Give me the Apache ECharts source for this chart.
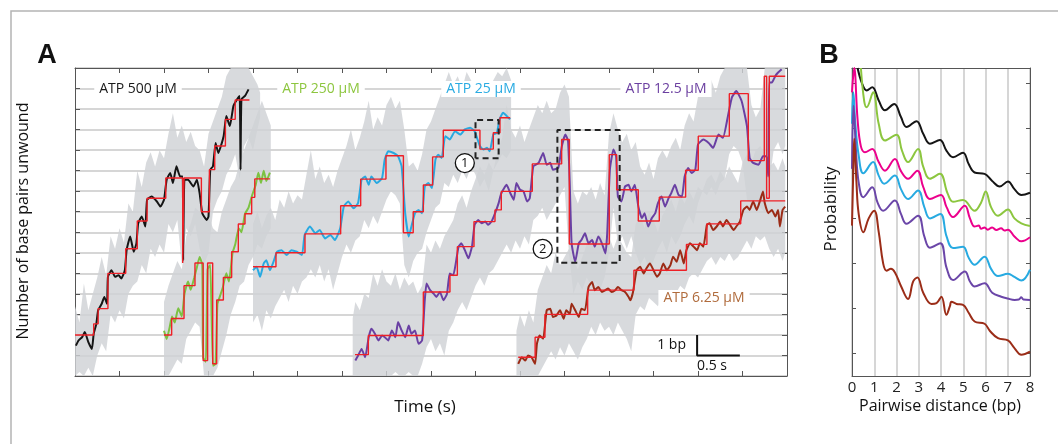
<!DOCTYPE html>
<html>
<head>
<meta charset="utf-8">
<title>Unwinding traces</title>
<script src="https://cdn.jsdelivr.net/npm/echarts@6/dist/echarts.min.js"></script>
<style>
  html, body { margin: 0; padding: 0; background: #fff; }
  #main { width: 1058px; height: 444px; }
</style>
</head>
<body>
<div id="main"></div>
<script>
// ---- panel A : smoothed traces (time s, base pairs) ----
var traceBlack = [[0.01,1.48],[0.04,1.73],[0.08,1.89],[0.11,2.14],[0.15,1.65],[0.19,1.32],[0.21,2.06],[0.24,2.54],[0.26,3.2],[0.3,3.52],[0.33,3.85],[0.36,3.52],[0.37,4.83],[0.41,5.15],[0.45,4.83],[0.49,4.91],[0.52,4.75],[0.56,5.15],[0.58,6.13],[0.62,6.79],[0.66,6.05],[0.69,6.46],[0.71,7.44],[0.75,7.77],[0.79,7.28],[0.81,8.58],[0.86,8.74],[0.92,8.5],[0.96,8.25],[1.0,8.58],[1.03,9.56],[1.07,9.89],[1.1,9.4],[1.14,10.21],[1.18,9.72],[1.21,9.72],[1.215,5.64],[1.23,9.56],[1.27,9.56],[1.33,9.23],[1.37,9.56],[1.4,8.91],[1.43,7.93],[1.48,7.6],[1.5,7.77],[1.52,10.05],[1.55,10.21],[1.58,11.35],[1.61,10.86],[1.67,11.68],[1.7,12.66],[1.74,12.17],[1.78,13.15],[1.82,13.47],[1.85,13.64],[1.86,10.05],[1.87,13.47],[1.91,13.64],[1.95,13.96]];
var traceGreen = [[1.0,2.2],[1.03,1.8],[1.06,2.3],[1.09,2.9],[1.12,2.6],[1.16,3.3],[1.2,2.9],[1.23,4.0],[1.27,4.6],[1.3,4.2],[1.34,4.8],[1.37,5.3],[1.4,5.8],[1.43,5.4],[1.44,0.9],[1.47,0.7],[1.49,5.2],[1.52,5.4],[1.55,0.5],[1.58,0.6],[1.6,3.5],[1.63,3.9],[1.66,4.3],[1.7,5.0],[1.73,4.6],[1.77,6.0],[1.8,6.4],[1.84,7.2],[1.87,7.0],[1.91,7.9],[1.95,8.2],[1.99,8.8],[2.03,9.3],[2.06,9.9],[2.09,9.4],[2.12,10.0],[2.15,9.5],[2.19,9.9]];
var traceBlue = [[2.0,5.15],[2.04,5.32],[2.08,4.83],[2.12,5.48],[2.15,5.64],[2.19,5.15],[2.23,5.56],[2.27,6.05],[2.32,6.13],[2.38,5.89],[2.43,6.13],[2.49,6.05],[2.55,5.89],[2.58,6.87],[2.64,7.28],[2.7,6.95],[2.75,7.11],[2.81,6.7],[2.87,6.87],[2.92,6.62],[2.98,7.19],[3.02,8.25],[3.07,8.5],[3.13,8.17],[3.18,8.42],[3.22,9.56],[3.26,9.72],[3.3,9.31],[3.33,9.72],[3.39,9.4],[3.45,9.64],[3.48,10.54],[3.52,10.95],[3.58,10.86],[3.63,10.7],[3.67,10.21],[3.71,7.93],[3.75,6.79],[3.78,7.28],[3.82,7.93],[3.86,8.09],[3.9,7.93],[3.93,9.23],[3.97,9.4],[4.01,9.15],[4.05,10.54],[4.08,10.78],[4.12,10.62],[4.16,11.68],[4.21,11.52],[4.27,11.92],[4.33,11.76],[4.38,12.01],[4.44,12.09],[4.49,11.92],[4.55,11.19],[4.59,11.03],[4.63,11.11],[4.66,10.95],[4.7,11.76],[4.74,11.84],[4.77,12.5],[4.81,12.82],[4.87,12.58],[4.89,12.5]];
var tracePurple = [[3.15,0.75],[3.18,0.99],[3.22,1.32],[3.26,0.91],[3.3,1.89],[3.33,2.3],[3.37,2.06],[3.41,1.73],[3.45,1.97],[3.48,1.89],[3.52,1.73],[3.56,2.22],[3.6,1.89],[3.63,2.63],[3.67,2.22],[3.71,1.89],[3.75,2.46],[3.78,2.06],[3.82,2.22],[3.86,1.57],[3.9,1.73],[3.93,3.69],[3.95,4.5],[3.99,4.18],[4.03,4.01],[4.06,3.85],[4.1,4.09],[4.14,3.69],[4.18,4.01],[4.21,4.99],[4.25,4.91],[4.29,5.81],[4.31,6.3],[4.34,6.46],[4.38,6.13],[4.42,5.73],[4.46,6.3],[4.49,7.36],[4.53,7.6],[4.57,7.44],[4.61,7.52],[4.64,7.36],[4.68,7.52],[4.72,7.93],[4.76,8.42],[4.79,8.9],[4.85,9.31],[4.89,8.91],[4.93,8.58],[4.96,9.4],[5.0,9.07],[5.04,8.99],[5.08,8.5],[5.11,8.66],[5.15,10.21],[5.21,10.38],[5.26,10.86],[5.3,10.29],[5.34,10.38],[5.37,10.05],[5.43,10.13],[5.47,11.19],[5.51,11.76],[5.54,11.44],[5.56,9.23],[5.58,6.46],[5.62,5.56],[5.66,6.46],[5.69,6.62],[5.73,6.95],[5.77,6.46],[5.81,6.62],[5.84,6.3],[5.88,6.79],[5.92,6.46],[5.96,5.97],[5.98,6.95],[6.01,10.05],[6.05,11.03],[6.08,10.7],[6.1,8.74],[6.14,8.5],[6.18,9.23],[6.22,9.31],[6.25,8.99],[6.29,9.31],[6.33,8.25],[6.37,7.68],[6.4,7.93],[6.44,7.28],[6.48,7.68],[6.52,7.93],[6.55,8.42],[6.59,8.74],[6.63,8.25],[6.67,8.66],[6.7,8.91],[6.74,9.31],[6.78,8.83],[6.82,8.74],[6.85,9.72],[6.89,10.13],[6.93,9.89],[6.97,10.05],[7.0,11.27],[7.06,11.52],[7.12,11.35],[7.17,11.11],[7.23,11.76],[7.28,11.6],[7.34,12.74],[7.38,13.56],[7.43,13.88],[7.49,13.39],[7.55,12.17],[7.58,10.62],[7.62,10.38],[7.68,10.29],[7.73,10.7],[7.77,10.7],[7.79,9.72],[7.8,14.29],[7.83,14.29],[7.87,14.62],[7.9,14.78],[7.94,14.94]];
var traceBrown = [[4.98,0.59],[5.02,0.91],[5.06,0.75],[5.09,1.0],[5.13,0.91],[5.17,0.59],[5.19,1.57],[5.22,1.97],[5.26,1.81],[5.3,3.2],[5.34,3.28],[5.37,2.87],[5.41,2.95],[5.45,3.2],[5.49,2.79],[5.52,3.2],[5.56,3.03],[5.58,3.52],[5.62,3.2],[5.66,2.87],[5.69,3.28],[5.73,3.2],[5.77,4.34],[5.81,4.58],[5.84,4.18],[5.88,4.34],[5.92,4.09],[5.96,4.18],[5.99,4.26],[6.03,4.09],[6.07,4.18],[6.1,4.34],[6.14,4.18],[6.18,4.09],[6.22,3.85],[6.24,3.69],[6.27,4.09],[6.31,5.15],[6.35,5.32],[6.39,4.99],[6.42,5.24],[6.46,5.48],[6.5,5.15],[6.54,4.83],[6.57,4.99],[6.61,5.48],[6.65,5.15],[6.69,5.4],[6.72,5.81],[6.76,5.56],[6.8,6.13],[6.84,5.48],[6.87,6.13],[6.91,6.46],[6.95,6.3],[6.99,6.13],[7.02,6.46],[7.06,6.3],[7.1,7.36],[7.13,7.44],[7.17,7.11],[7.21,7.28],[7.25,7.52],[7.28,7.28],[7.32,7.6],[7.36,7.36],[7.4,7.11],[7.43,7.28],[7.47,7.52],[7.51,8.09],[7.55,8.25],[7.58,8.09],[7.62,8.5],[7.66,8.09],[7.7,8.58],[7.73,8.99],[7.75,8.42],[7.79,7.93],[7.83,8.09],[7.87,7.77],[7.9,8.09],[7.92,7.28],[7.95,8.09],[7.98,8.25]];

// ---- panel A : step fits (start time, level) ----
var fitBlack = [[0,2.0],[0.21,2.54],[0.26,3.28],[0.37,5.0],[0.57,6.2],[0.70,7.55],[0.81,8.66],[1.02,9.64],[1.21,5.5],[1.225,9.64],[1.42,8.0],[1.51,10.05],[1.57,11.2],[1.69,12.5],[1.80,13.44],[1.96,13.44]];
var fitGreen = [[1.0,2.0],[1.086,2.8],[1.225,4.4],[1.348,5.5],[1.44,0.75],[1.49,5.5],[1.547,0.6],[1.592,3.7],[1.667,4.8],[1.76,6.05],[1.835,7.4],[1.91,7.9],[1.985,8.7],[2.02,9.6],[2.19,9.6]];
var fitBlue = [[2.0,5.32],[2.258,6.0],[2.584,6.92],[2.985,8.29],[3.21,9.59],[3.494,10.73],[3.69,6.98],[3.80,8.0],[3.914,9.3],[4.018,10.67],[4.138,11.97],[4.55,11.05],[4.70,11.85],[4.775,12.58],[4.89,12.58]];
var fitPurple = [[3.146,1.04],[3.296,1.97],[3.914,4.09],[4.213,4.91],[4.296,6.3],[4.483,7.52],[4.719,8.09],[4.79,8.99],[5.138,10.33],[5.468,11.52],[5.554,6.43],[6.003,10.78],[6.086,9.07],[6.329,7.55],[6.565,8.71],[6.861,10.02],[7.003,11.68],[7.352,13.75],[7.565,10.49],[7.745,14.6],[7.771,8.66],[7.801,14.6],[7.98,14.6]];
var fitBrown = [[4.98,0.91],[5.17,1.89],[5.28,3.0],[5.76,4.18],[6.28,5.15],[6.87,6.41],[7.10,7.41],[7.48,8.53],[7.98,8.53]];

// ---- panel A : raw-data spread (time, low, high) ----
var rawBlack = [[0.00,0.0,3.4],[0.05,0.2,2.6],[0.10,0.0,4.5],[0.15,0.4,3.2],[0.20,0.0,4.0],[0.25,1.0,4.8],[0.30,1.6,5.8],[0.35,1.2,4.9],[0.40,3.0,6.8],[0.45,2.6,6.2],[0.50,3.2,7.2],[0.55,2.8,6.5],[0.60,4.0,8.4],[0.65,4.4,8.0],[0.70,4.6,10.0],[0.75,5.4,9.2],[0.80,5.0,10.4],[0.85,6.2,10.9],[0.90,5.8,10.2],[0.95,6.4,11.0],[1.00,6.0,10.6],[1.05,7.4,11.8],[1.10,7.0,12.8],[1.15,7.6,11.6],[1.20,5.4,12.2],[1.25,7.2,11.4],[1.30,6.8,11.9],[1.35,7.4,11.2],[1.40,6.2,11.0],[1.45,5.4,10.2],[1.50,6.0,11.8],[1.55,8.0,12.4],[1.60,8.6,13.0],[1.65,9.0,13.6],[1.70,9.8,14.6],[1.75,10.2,15.0],[1.80,10.8,15.0],[1.85,9.6,15.0],[1.90,11.2,15.0],[1.95,11.6,15.0],[2.00,11.0,14.6],[2.05,12.0,14.2],[2.08,12.6,13.8]];
var rawGreen = [[1.00,0.0,3.6],[1.05,0.0,4.4],[1.10,0.4,5.0],[1.15,0.8,5.6],[1.20,0.6,5.2],[1.25,1.8,6.8],[1.30,2.2,7.4],[1.35,2.6,8.2],[1.40,2.4,8.0],[1.45,0.0,7.6],[1.50,0.0,7.8],[1.55,0.0,7.2],[1.60,0.4,7.0],[1.65,1.2,8.0],[1.70,2.0,8.6],[1.75,3.0,9.2],[1.80,3.6,9.6],[1.85,4.4,10.4],[1.90,4.6,11.0],[1.95,5.4,11.6],[2.00,5.8,12.2],[2.05,6.4,12.8],[2.10,6.2,13.4],[2.15,6.8,12.8],[2.20,7.2,12.2]];
var rawBlue = [[2.00,2.6,7.4],[2.05,3.0,8.0],[2.10,2.2,7.2],[2.15,3.2,7.8],[2.20,2.8,8.2],[2.25,3.4,7.6],[2.30,3.8,8.6],[2.35,4.2,8.2],[2.40,3.6,9.0],[2.45,4.4,8.4],[2.50,4.0,8.8],[2.55,4.6,8.6],[2.60,4.8,9.8],[2.65,5.2,11.0],[2.70,4.8,9.6],[2.75,5.4,10.2],[2.80,4.6,9.4],[2.85,5.2,9.8],[2.90,4.2,9.2],[2.95,5.0,10.0],[3.00,5.8,10.6],[3.05,6.4,11.2],[3.10,6.0,12.0],[3.15,6.6,11.0],[3.20,6.8,11.6],[3.25,7.6,12.4],[3.30,7.2,13.4],[3.35,7.8,12.0],[3.40,7.4,12.6],[3.45,8.0,12.2],[3.50,8.6,13.2],[3.55,9.0,13.6],[3.60,8.8,13.0],[3.65,8.4,13.4],[3.70,5.4,12.0],[3.75,4.8,10.2],[3.80,5.6,10.4],[3.85,6.0,10.0],[3.90,6.2,10.8],[3.95,7.0,12.0],[4.00,7.6,12.4],[4.05,8.2,13.0],[4.10,8.4,13.6],[4.15,9.4,14.2],[4.20,9.2,14.8],[4.25,9.8,14.2],[4.30,9.4,14.6],[4.35,10.0,14.0],[4.40,9.6,14.8],[4.45,10.2,14.4],[4.50,9.8,13.8],[4.55,9.2,13.6],[4.60,9.6,14.2],[4.65,9.0,13.8],[4.70,10.0,14.4],[4.75,10.4,14.8],[4.80,10.8,14.6],[4.85,10.6,15.0],[4.90,11.0,14.4]];
var rawPurple = [[3.12,0.0,2.8],[3.15,0.0,3.6],[3.20,0.0,3.2],[3.25,0.0,4.0],[3.30,0.0,3.8],[3.35,0.0,5.0],[3.40,0.0,4.4],[3.45,0.0,5.2],[3.50,0.0,4.6],[3.55,0.0,4.4],[3.60,0.2,5.0],[3.65,0.0,4.2],[3.70,0.0,4.8],[3.75,0.2,4.4],[3.80,0.0,4.6],[3.85,0.0,4.0],[3.90,0.6,4.4],[3.95,1.4,6.4],[4.00,1.8,6.0],[4.05,1.2,6.6],[4.10,1.6,6.2],[4.15,1.0,6.8],[4.20,2.2,7.2],[4.25,2.6,7.6],[4.30,3.2,8.4],[4.35,3.6,8.8],[4.40,3.2,8.2],[4.45,3.8,9.0],[4.50,4.4,9.6],[4.55,4.8,10.2],[4.60,4.4,9.8],[4.65,5.0,10.4],[4.70,5.2,10.0],[4.75,5.6,11.0],[4.80,6.0,11.6],[4.85,6.4,13.2],[4.90,6.0,12.0],[4.95,6.6,11.6],[5.00,6.2,12.2],[5.05,6.8,11.4],[5.10,6.4,12.0],[5.15,7.6,12.6],[5.20,7.8,13.2],[5.25,8.2,12.8],[5.30,7.6,13.4],[5.35,8.0,12.8],[5.40,8.4,13.0],[5.45,8.8,13.8],[5.50,9.2,14.2],[5.55,6.0,13.6],[5.60,4.0,9.0],[5.65,4.6,8.4],[5.70,4.2,9.0],[5.75,4.8,8.8],[5.80,4.4,9.2],[5.85,4.6,8.6],[5.90,4.2,9.4],[5.95,4.8,8.8],[6.00,6.0,11.8],[6.05,8.2,12.8],[6.10,6.4,12.0],[6.15,6.8,11.4],[6.20,6.2,11.8],[6.25,6.8,11.0],[6.30,6.0,11.4],[6.35,5.4,10.2],[6.40,5.8,9.8],[6.45,5.2,10.4],[6.50,5.6,9.6],[6.55,6.2,10.6],[6.60,6.6,11.0],[6.65,6.0,10.6],[6.70,6.8,11.2],[6.75,6.4,11.6],[6.80,6.8,11.0],[6.85,7.4,12.2],[6.90,7.8,12.8],[6.95,7.4,12.4],[7.00,8.4,13.6],[7.05,9.0,14.0],[7.10,8.8,13.6],[7.15,9.2,14.4],[7.20,8.8,13.8],[7.25,9.4,14.6],[7.30,9.6,15.0],[7.35,10.8,15.0],[7.40,11.2,15.0],[7.45,11.0,15.0],[7.50,10.4,15.0],[7.55,8.6,15.0],[7.60,8.4,13.2],[7.65,8.6,12.6],[7.70,8.2,13.0],[7.75,8.0,15.0],[7.80,9.4,15.0],[7.85,11.0,15.0],[7.90,11.4,15.0],[7.95,10.8,15.0],[7.98,11.2,15.0]];
var rawBrown = [[4.96,0.0,2.2],[5.00,0.0,3.0],[5.05,0.0,2.4],[5.10,0.0,3.2],[5.15,0.0,2.6],[5.20,0.0,4.2],[5.25,0.4,4.8],[5.30,0.8,5.4],[5.35,1.2,5.0],[5.40,0.8,6.0],[5.45,1.4,5.4],[5.50,1.0,5.8],[5.55,1.6,6.2],[5.60,1.2,5.6],[5.65,0.8,5.2],[5.70,1.4,5.8],[5.75,1.8,6.4],[5.80,2.4,6.8],[5.85,2.0,6.4],[5.90,2.6,7.0],[5.95,2.2,6.6],[6.00,2.4,6.8],[6.05,2.0,6.2],[6.10,2.6,6.8],[6.15,2.2,6.4],[6.20,1.8,6.0],[6.25,1.2,5.8],[6.30,3.0,7.4],[6.35,3.4,7.8],[6.40,3.2,7.2],[6.45,3.8,8.0],[6.50,3.6,7.6],[6.55,3.4,7.0],[6.60,3.8,7.8],[6.65,4.0,8.2],[6.70,4.2,8.6],[6.75,4.0,8.0],[6.80,4.4,8.8],[6.85,4.2,8.4],[6.90,4.8,9.0],[6.95,5.0,8.6],[7.00,4.8,9.2],[7.05,5.2,9.0],[7.10,5.6,9.6],[7.15,5.8,9.8],[7.20,5.4,9.4],[7.25,5.8,10.0],[7.30,5.6,9.6],[7.35,6.0,10.2],[7.40,5.6,9.8],[7.45,5.8,9.4],[7.50,6.2,10.4],[7.55,6.6,10.8],[7.60,6.2,10.4],[7.65,6.8,11.0],[7.70,6.6,11.2],[7.75,6.8,10.8],[7.80,6.2,10.2],[7.85,5.8,10.4],[7.90,6.2,10.0],[7.95,5.6,10.6],[7.98,6.0,10.2]];

// ---- panel A : annotations (time, bp) ----
var box1 = [[4.50,10.6],[4.50,12.47],[4.76,12.47],[4.76,10.6],[4.50,10.6]];
var box2 = [[5.42,5.52],[5.42,11.98],[6.12,11.98],[6.12,5.52],[5.42,5.52]];
var markers = [[4.38,10.37,'1'],[5.255,6.19,'2']];
var scaleBar = [[7.47,1],[6.99,1],[6.99,2]];

// ---- panel B : pairwise distance distributions (bp, probability a.u.) ----
var pwdBlack = [[0.25,6.84],[0.45,6.5],[0.66,6.34],[0.91,6.41],[1.2,6.12],[1.48,5.9],[1.9,6.04],[2.2,5.75],[2.45,5.53],[2.9,5.66],[3.2,5.38],[3.5,5.16],[3.95,5.24],[4.25,5.0],[4.54,4.86],[4.99,4.96],[5.25,4.7],[5.51,4.52],[5.96,4.49],[6.3,4.33],[6.64,4.21],[7.01,4.32],[7.3,4.15],[7.61,4.02],[8.0,4.07]];
var pwdGreen = [[0.4,6.84],[0.55,6.1],[0.66,5.97],[0.95,6.3],[1.2,5.6],[1.48,5.23],[2.0,5.36],[2.25,5.0],[2.52,4.75],[2.97,5.04],[3.2,4.65],[3.5,4.38],[3.95,4.49],[4.3,4.05],[4.54,3.87],[4.99,3.91],[5.51,3.67],[5.8,3.85],[6.01,4.1],[6.25,3.75],[6.56,3.56],[7.01,3.7],[7.3,3.5],[7.61,3.39],[8.0,3.33]];
var pwdMagenta = [[0.0,6.3],[0.1,6.84],[0.25,5.7],[0.4,5.1],[0.58,4.97],[0.91,5.04],[1.2,4.75],[1.48,4.56],[1.93,4.82],[2.2,4.55],[2.52,4.38],[2.94,4.56],[3.2,4.2],[3.5,3.93],[4.0,4.02],[4.25,3.75],[4.54,3.53],[5.07,3.78],[5.3,3.5],[5.51,3.32],[5.7,3.34],[5.8,3.27],[5.96,3.3],[6.1,3.25],[6.3,3.3],[6.49,3.24],[6.7,3.28],[6.85,3.23],[7.01,3.25],[7.3,3.1],[7.61,2.99],[8.0,3.08]];
var pwdCyan = [[0.0,5.6],[0.06,6.3],[0.15,5.6],[0.3,4.9],[0.51,4.5],[0.95,4.75],[1.2,4.45],[1.45,4.27],[1.93,4.45],[2.2,4.15],[2.52,3.93],[2.97,4.12],[3.25,3.75],[3.5,3.5],[3.97,3.6],[4.25,3.1],[4.54,2.84],[4.99,2.87],[5.25,2.62],[5.51,2.47],[5.96,2.65],[6.25,2.38],[6.56,2.22],[7.01,2.27],[7.3,2.2],[7.61,2.12],[8.0,2.36]];
var pwdPurple = [[0.0,4.6],[0.07,6.0],[0.18,5.0],[0.3,4.3],[0.51,3.97],[0.91,4.19],[1.15,3.85],[1.4,3.67],[1.93,3.9],[2.2,3.6],[2.45,3.38],[2.97,3.56],[3.25,3.1],[3.5,2.85],[3.97,2.95],[4.25,2.4],[4.54,2.13],[5.07,2.32],[5.3,2.1],[5.51,1.99],[5.96,2.06],[6.3,1.85],[6.71,1.76],[7.0,1.72],[7.31,1.69],[7.5,1.7],[7.61,1.75],[7.7,1.7],[8.0,1.69]];
var pwdBrown = [[0.0,3.34],[0.06,4.6],[0.1,5.27],[0.2,4.3],[0.3,3.6],[0.51,3.19],[0.75,3.5],[1.0,3.67],[1.2,3.2],[1.4,2.5],[1.55,2.34],[1.75,2.38],[1.93,2.3],[2.2,2.0],[2.52,1.71],[2.75,2.1],[2.94,2.19],[3.2,1.85],[3.57,1.6],[3.8,1.62],[4.02,1.76],[4.24,1.36],[4.4,1.55],[4.47,1.65],[4.7,1.6],[4.99,1.58],[5.25,1.4],[5.51,1.21],[5.96,1.16],[6.2,1.0],[6.56,0.84],[7.01,0.79],[7.3,0.62],[7.61,0.47],[8.0,0.54]];
var probTicks = [0.5,1.5,2.5,3.5,4.5,5.5,6.5];

var FONT = '"Open Sans", "DejaVu Sans", sans-serif';
var chart = echarts.init(document.getElementById('main'));

function rawBand(rows) {
  return {
    type: 'custom', xAxisIndex: 0, yAxisIndex: 0, z: 1, silent: true, clip: true,
    data: [rows[0]],
    renderItem: function (params, api) {
      var pts = [];
      for (var i = 0; i < rows.length; i++) pts.push(api.coord([rows[i][0], rows[i][2]]));
      for (var j = rows.length - 1; j >= 0; j--) pts.push(api.coord([rows[j][0], rows[j][1]]));
      return { type: 'polygon', shape: { points: pts }, style: { fill: '#cfd2d5', opacity: 0.82 } };
    }
  };
}
function trace(data, color) {
  return { type: 'line', xAxisIndex: 0, yAxisIndex: 0, data: data, showSymbol: false, smooth: 0.15,
    lineStyle: { color: color, width: 2 }, z: 3, silent: true };
}
function fit(data) {
  return { type: 'line', xAxisIndex: 0, yAxisIndex: 0, data: data, step: 'end', showSymbol: false,
    lineStyle: { color: '#ee2027', width: 1.4 }, z: 4, silent: true };
}
function pwd(data, color) {
  return { type: 'line', xAxisIndex: 2, yAxisIndex: 2, data: data, showSymbol: false, smooth: 0.4,
    lineStyle: { color: color, width: 2 }, z: 3, silent: true };
}
function frameAxis(grid, pos, extra) {
  return Object.assign({
    gridIndex: grid, type: 'value', position: pos,
    axisLine: { show: true, onZero: false, lineStyle: { color: '#555', width: 1 } },
    axisTick: { show: false }, axisLabel: { show: false }, splitLine: { show: false }
  }, extra || {});
}

var tickA = { show: true, inside: true, length: 5, lineStyle: { color: '#555', width: 1 } };
var tickB = { show: true, inside: true, length: 4, customValues: probTicks, lineStyle: { color: '#555', width: 1 } };

var option = {
  animation: false,
  backgroundColor: '#fff',
  grid: [
    { left: 75, top: 68, width: 712, height: 308, outerBoundsMode: 'none' },
    { left: 852, top: 68, width: 178, height: 308, outerBoundsMode: 'none' }
  ],
  xAxis: [
    frameAxis(0, 'bottom', { min: 0, max: 8, interval: 0.5, axisTick: tickA }),
    frameAxis(0, 'top', { min: 0, max: 8, interval: 0.5, axisTick: tickA }),
    frameAxis(1, 'bottom', { min: 0, max: 8, interval: 1,
      axisLabel: { show: true, color: '#222', fontSize: 15, fontFamily: FONT, margin: 4 },
      splitLine: { show: true, lineStyle: { color: '#c9c9c9', width: 1.5 } } }),
    frameAxis(1, 'top', { min: 0, max: 8, interval: 1 })
  ],
  yAxis: [
    frameAxis(0, 'left', { min: 0, max: 15, interval: 1, axisTick: tickA,
      splitLine: { show: true, lineStyle: { color: '#c8c8c8', width: 1.5 } } }),
    frameAxis(0, 'right', { min: 0, max: 15, interval: 1, axisTick: tickA }),
    frameAxis(1, 'left', { min: 0, max: 6.84, axisTick: tickB }),
    frameAxis(1, 'right', { min: 0, max: 6.84, axisTick: tickB })
  ],
  series: [
    rawBand(rawBlack), rawBand(rawGreen), rawBand(rawBlue), rawBand(rawPurple), rawBand(rawBrown),
    trace(traceBlack, '#151515'), trace(traceGreen, '#7cc242'), trace(traceBlue, '#28a9e1'),
    trace(tracePurple, '#6a40a3'), trace(traceBrown, '#9b2b16'),
    fit(fitBlack), fit(fitGreen), fit(fitBlue), fit(fitPurple), fit(fitBrown),
    { type: 'line', xAxisIndex: 0, yAxisIndex: 0, data: box1, showSymbol: false, z: 5,
      lineStyle: { color: '#222', width: 2, type: [6, 4] } },
    { type: 'line', xAxisIndex: 0, yAxisIndex: 0, data: box2, showSymbol: false, z: 5,
      lineStyle: { color: '#222', width: 2, type: [6, 4] } },
    { type: 'line', xAxisIndex: 0, yAxisIndex: 0, data: scaleBar, showSymbol: false, z: 5,
      lineStyle: { color: '#111', width: 2 } },
    { type: 'scatter', xAxisIndex: 0, yAxisIndex: 0, data: markers, symbol: 'circle', symbolSize: 19, z: 6,
      itemStyle: { color: '#fff', borderColor: '#111', borderWidth: 1.3, opacity: 1 },
      label: { show: true, position: 'inside', color: '#111', fontSize: 13, fontFamily: FONT, opacity: 1,
        formatter: function (p) { return p.value[2]; } } },
    pwd(pwdBlack, '#151515'), pwd(pwdGreen, '#8cc63f'), pwd(pwdMagenta, '#ec008c'),
    pwd(pwdCyan, '#27aae1'), pwd(pwdPurple, '#6b46a8'), pwd(pwdBrown, '#9b2d18')
  ],
  graphic: [
    { type: 'rect', z: 0, shape: { x: 11, y: 11, width: 1100, height: 460 },
      style: { fill: 'none', stroke: '#b4b4b4', lineWidth: 1.5 } },
    { type: 'text', x: 47, y: 56, style: { text: 'A', font: 'bold 27px "Liberation Sans", Arial, sans-serif', fill: '#111', align: 'center', verticalAlign: 'middle' } },
    { type: 'text', x: 829, y: 56, style: { text: 'B', font: 'bold 27px "Liberation Sans", Arial, sans-serif', fill: '#111', align: 'center', verticalAlign: 'middle' } },
    { type: 'text', x: 138, y: 89, z: 10, style: { text: 'ATP 500 \u00b5M', font: '14px ' + FONT, fill: '#1a1a1a', align: 'center', verticalAlign: 'middle', backgroundColor: '#fff', padding: [1, 5] } },
    { type: 'text', x: 321, y: 89, z: 10, style: { text: 'ATP 250 \u00b5M', font: '14px ' + FONT, fill: '#8dc63f', align: 'center', verticalAlign: 'middle', backgroundColor: '#fff', padding: [1, 5] } },
    { type: 'text', x: 481, y: 89, z: 10, style: { text: 'ATP 25 \u00b5M', font: '14px ' + FONT, fill: '#29abe2', align: 'center', verticalAlign: 'middle', backgroundColor: '#fff', padding: [1, 5] } },
    { type: 'text', x: 666, y: 89, z: 10, style: { text: 'ATP 12.5 \u00b5M', font: '14px ' + FONT, fill: '#6b3fa0', align: 'center', verticalAlign: 'middle', backgroundColor: '#fff', padding: [1, 5] } },
    { type: 'text', x: 704, y: 298, z: 10, style: { text: 'ATP 6.25 \u00b5M', font: '14px ' + FONT, fill: '#b06b3c', align: 'center', verticalAlign: 'middle', backgroundColor: '#fff', padding: [1, 5] } },
    { type: 'text', x: 686, y: 345, z: 10, style: { text: '1 bp', font: '14px ' + FONT, fill: '#111', align: 'right', verticalAlign: 'middle' } },
    { type: 'text', x: 697, y: 366, z: 10, style: { text: '0.5 s', font: '14px ' + FONT, fill: '#111', align: 'left', verticalAlign: 'middle' } },
    { type: 'text', x: 425, y: 407, style: { text: 'Time (s)', font: '17px ' + FONT, fill: '#111', align: 'center', verticalAlign: 'middle' } },
    { type: 'text', x: 23, y: 221, rotation: Math.PI / 2, style: { text: 'Number of base pairs unwound', font: '16px ' + FONT, fill: '#111', align: 'center', verticalAlign: 'middle' } },
    { type: 'text', x: 940, y: 406, style: { text: 'Pairwise distance (bp)', font: '16px ' + FONT, fill: '#111', align: 'center', verticalAlign: 'middle' } },
    { type: 'text', x: 831, y: 209, rotation: Math.PI / 2, style: { text: 'Probability', font: '17px ' + FONT, fill: '#111', align: 'center', verticalAlign: 'middle' } }
  ]
};

chart.setOption(option);
</script>
</body>
</html>
